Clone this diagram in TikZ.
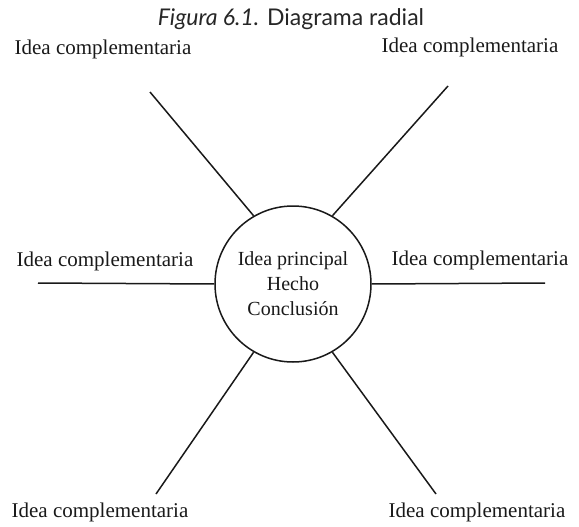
\documentclass[tikz,border=0pt]{standalone}
\usepackage{fontspec}
\setmainfont{Liberation Serif}
\newfontfamily\titlefont{Lato}
\begin{document}
\begin{tikzpicture}[x=1pt,y=-1pt,
  lbl/.style={font=\fontsize{21}{24}\selectfont, inner sep=0pt, text=black!90},
  spoke/.style={line width=1.5pt, black!90},
  hub/.style={draw=black!90, line width=1.5pt, circle, minimum size=156pt, inner sep=0pt,
    align=center, font=\fontsize{20}{25}\selectfont, text=black!90}
]
\useasboundingbox (0,0) rectangle (579,527);
\node[font=\titlefont\fontsize{23}{27}\selectfont, text=black!85] (title) at (291,19)
  {\textit{Figura 6.1.} Diagrama radial};
\node[hub] (c) at (293,284) {Idea principal\\Hecho\\Conclusión};
\node[lbl] (ltl) at (103,49) {Idea complementaria};
\node[lbl] (ltr) at (470,47) {Idea complementaria};
\node[lbl] (ll) at (105,261) {Idea complementaria};
\node[lbl] (lr) at (480,260) {Idea complementaria};
\node[lbl] (lbl) at (100,512) {Idea complementaria};
\node[lbl] (lbr) at (477,512) {Idea complementaria};
\coordinate (tl) at (150,92);
\coordinate (tr) at (448,86);
\coordinate (l) at (38,283);
\coordinate (r) at (545,283);
\coordinate (bl) at (156,494);
\coordinate (br) at (436,494);
\draw[spoke] (tl) -- (c.120);
\draw[spoke] (tr) -- (c.60);
\draw[spoke] (l) -- (c.west);
\draw[spoke] (r) -- (c.east);
\draw[spoke] (bl) -- (c.240);
\draw[spoke] (br) -- (c.300);
\end{tikzpicture}
\end{document}
